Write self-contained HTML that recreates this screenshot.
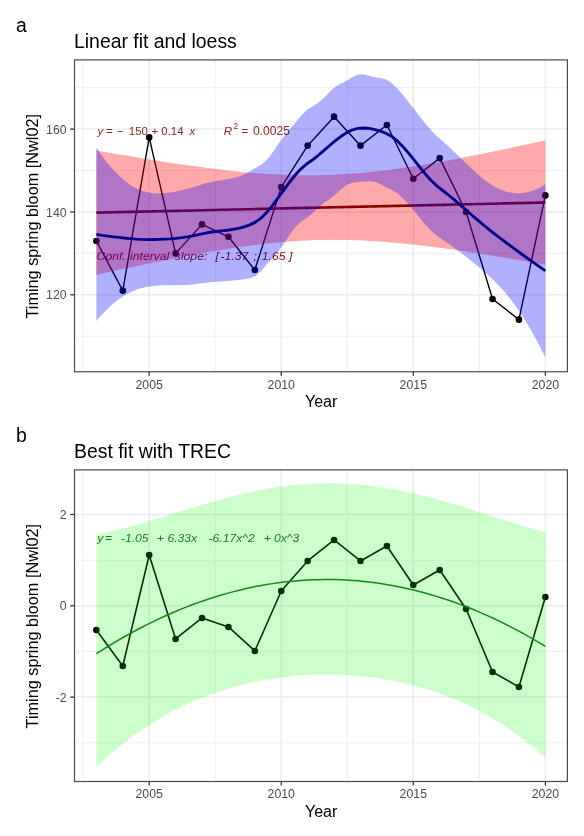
<!DOCTYPE html><html><head><meta charset="utf-8"><style>html,body{margin:0;padding:0;background:#fff;width:584px;height:836px;overflow:hidden}svg{display:block;filter:blur(0.3px)}</style></head><body><svg width="584" height="836" viewBox="0 0 584 836" font-family="Liberation Sans, sans-serif">
<rect width="584" height="836" fill="#fff"/>
<text x="16.0" y="31.6" font-size="19.4" fill="#000">a</text>
<text x="74.0" y="47.7" font-size="19.4" fill="#000">Linear fit and loess</text>
<line x1="73.9" x2="567.9" y1="336.23" y2="336.23" stroke="#EBEBEB" stroke-width="0.8"/>
<line x1="73.9" x2="567.9" y1="253.38" y2="253.38" stroke="#EBEBEB" stroke-width="0.8"/>
<line x1="73.9" x2="567.9" y1="170.52" y2="170.52" stroke="#EBEBEB" stroke-width="0.8"/>
<line x1="73.9" x2="567.9" y1="87.67" y2="87.67" stroke="#EBEBEB" stroke-width="0.8"/>
<line x1="83.20" x2="83.20" y1="60.0" y2="371.75" stroke="#EBEBEB" stroke-width="0.8"/>
<line x1="215.20" x2="215.20" y1="60.0" y2="371.75" stroke="#EBEBEB" stroke-width="0.8"/>
<line x1="347.30" x2="347.30" y1="60.0" y2="371.75" stroke="#EBEBEB" stroke-width="0.8"/>
<line x1="479.30" x2="479.30" y1="60.0" y2="371.75" stroke="#EBEBEB" stroke-width="0.8"/>
<line x1="73.9" x2="567.9" y1="294.80" y2="294.80" stroke="#EBEBEB" stroke-width="1.5"/>
<line x1="73.9" x2="567.9" y1="211.95" y2="211.95" stroke="#EBEBEB" stroke-width="1.5"/>
<line x1="73.9" x2="567.9" y1="129.10" y2="129.10" stroke="#EBEBEB" stroke-width="1.5"/>
<line x1="149.20" x2="149.20" y1="60.0" y2="371.75" stroke="#EBEBEB" stroke-width="1.5"/>
<line x1="281.25" x2="281.25" y1="60.0" y2="371.75" stroke="#EBEBEB" stroke-width="1.5"/>
<line x1="413.30" x2="413.30" y1="60.0" y2="371.75" stroke="#EBEBEB" stroke-width="1.5"/>
<line x1="545.40" x2="545.40" y1="60.0" y2="371.75" stroke="#EBEBEB" stroke-width="1.5"/>
<text transform="translate(96.62,260.4) scale(1.15,1)" font-size="10.6" font-style="italic" fill="#8B0000">Conf.</text>
<text transform="translate(130.08,260.4) scale(1.15,1)" font-size="10.6" font-style="italic" fill="#8B0000">interval</text>
<text transform="translate(174.80,260.4) scale(1.15,1)" font-size="10.6" font-style="italic" fill="#8B0000">slope:</text>
<text transform="translate(215.44,260.4) scale(1.15,1)" font-size="10.6" font-style="italic" fill="#8B0000">[</text>
<text transform="translate(220.53,260.4) scale(1.15,1)" font-size="10.6" font-style="italic" fill="#8B0000">-1.37</text>
<text transform="translate(253.58,260.4) scale(1.15,1)" font-size="10.6" font-style="italic" fill="#8B0000">;</text>
<text transform="translate(261.77,260.4) scale(1.15,1)" font-size="10.6" font-style="italic" fill="#8B0000">1.65</text>
<text transform="translate(288.94,260.4) scale(1.15,1)" font-size="10.6" font-style="italic" fill="#8B0000">]</text>
<polyline points="96.38,240.95 122.79,290.66 149.20,137.38 175.61,253.38 202.02,224.38 228.43,236.80 254.84,269.94 281.25,187.09 307.66,145.67 334.07,116.67 360.48,145.67 386.89,124.96 413.30,178.81 439.71,158.10 466.12,211.95 492.53,298.94 518.94,319.65 545.35,195.38" fill="none" stroke="#000" stroke-width="1.4" stroke-linejoin="round"/>
<circle cx="96.38" cy="240.95" r="3.3" fill="#000"/>
<circle cx="122.79" cy="290.66" r="3.3" fill="#000"/>
<circle cx="149.20" cy="137.38" r="3.3" fill="#000"/>
<circle cx="175.61" cy="253.38" r="3.3" fill="#000"/>
<circle cx="202.02" cy="224.38" r="3.3" fill="#000"/>
<circle cx="228.43" cy="236.80" r="3.3" fill="#000"/>
<circle cx="254.84" cy="269.94" r="3.3" fill="#000"/>
<circle cx="281.25" cy="187.09" r="3.3" fill="#000"/>
<circle cx="307.66" cy="145.67" r="3.3" fill="#000"/>
<circle cx="334.07" cy="116.67" r="3.3" fill="#000"/>
<circle cx="360.48" cy="145.67" r="3.3" fill="#000"/>
<circle cx="386.89" cy="124.96" r="3.3" fill="#000"/>
<circle cx="413.30" cy="178.81" r="3.3" fill="#000"/>
<circle cx="439.71" cy="158.10" r="3.3" fill="#000"/>
<circle cx="466.12" cy="211.95" r="3.3" fill="#000"/>
<circle cx="492.53" cy="298.94" r="3.3" fill="#000"/>
<circle cx="518.94" cy="319.65" r="3.3" fill="#000"/>
<circle cx="545.35" cy="195.38" r="3.3" fill="#000"/>
<text x="97.50" y="134.6" font-size="11.4" font-style="italic" fill="#8E2424">y</text>
<text x="106.00" y="134.6" font-size="11.4" font-style="normal" fill="#8E2424">=</text>
<text x="117.10" y="134.6" font-size="11.4" font-style="normal" fill="#8E2424">−</text>
<text x="128.80" y="134.6" font-size="11.4" font-style="normal" fill="#8E2424">150</text>
<text x="151.50" y="134.6" font-size="11.4" font-style="normal" fill="#8E2424">+</text>
<text x="161.30" y="134.6" font-size="11.4" font-style="normal" fill="#8E2424">0.14</text>
<text x="189.50" y="134.6" font-size="11.4" font-style="italic" fill="#8E2424">x</text>
<text x="223.70" y="134.6" font-size="11.6" font-style="italic" fill="#8E2424">R</text>
<text x="241.40" y="134.6" font-size="11.6" font-style="normal" fill="#8E2424">=</text>
<text x="252.90" y="134.6" font-size="12.1" font-style="normal" fill="#8E2424">0.0025</text>
<text x="233.50" y="128.8" font-size="8.4" font-style="normal" fill="#8E2424">2</text>
<polygon points="96.38,150.37 102.06,151.39 107.75,152.39 113.43,153.39 119.11,154.38 124.80,155.36 130.48,156.33 136.16,157.29 141.85,158.24 147.53,159.17 153.21,160.09 158.89,161.00 164.58,161.89 170.26,162.77 175.94,163.63 181.63,164.47 187.31,165.29 192.99,166.09 198.68,166.87 204.36,167.62 210.04,168.35 215.73,169.06 221.41,169.74 227.09,170.38 232.78,171.00 238.46,171.58 244.14,172.13 249.83,172.64 255.51,173.11 261.19,173.54 266.87,173.93 272.56,174.27 278.24,174.57 283.92,174.81 289.61,175.01 295.29,175.16 300.97,175.25 306.66,175.29 312.34,175.27 318.02,175.20 323.71,175.07 329.39,174.89 335.07,174.65 340.76,174.35 346.44,174.01 352.12,173.61 357.81,173.15 363.49,172.65 369.17,172.10 374.86,171.50 380.54,170.86 386.22,170.17 391.90,169.44 397.59,168.68 403.27,167.87 408.95,167.03 414.64,166.16 420.32,165.26 426.00,164.33 431.69,163.37 437.37,162.38 443.05,161.37 448.74,160.33 454.42,159.28 460.10,158.20 465.79,157.10 471.47,155.99 477.15,154.86 482.84,153.71 488.52,152.55 494.20,151.37 499.88,150.18 505.57,148.98 511.25,147.77 516.93,146.54 522.62,145.31 528.30,144.06 533.98,142.80 539.67,141.54 545.35,140.27 545.35,264.78 539.67,263.77 533.98,262.76 528.30,261.76 522.62,260.77 516.93,259.79 511.25,258.82 505.57,257.86 499.88,256.92 494.20,255.98 488.52,255.06 482.84,254.15 477.15,253.26 471.47,252.39 465.79,251.53 460.10,250.69 454.42,249.87 448.74,249.07 443.05,248.29 437.37,247.53 431.69,246.80 426.00,246.10 420.32,245.42 414.64,244.77 408.95,244.16 403.27,243.57 397.59,243.03 391.90,242.51 386.22,242.04 380.54,241.61 374.86,241.23 369.17,240.88 363.49,240.59 357.81,240.34 352.12,240.14 346.44,240.00 340.76,239.91 335.07,239.87 329.39,239.88 323.71,239.96 318.02,240.08 312.34,240.27 306.66,240.51 300.97,240.80 295.29,241.15 289.61,241.55 283.92,242.00 278.24,242.51 272.56,243.06 266.87,243.65 261.19,244.30 255.51,244.98 249.83,245.71 244.14,246.48 238.46,247.28 232.78,248.12 227.09,248.99 221.41,249.89 215.73,250.83 210.04,251.79 204.36,252.77 198.68,253.79 192.99,254.82 187.31,255.88 181.63,256.95 175.94,258.05 170.26,259.16 164.58,260.30 158.89,261.44 153.21,262.61 147.53,263.78 141.85,264.97 136.16,266.17 130.48,267.39 124.80,268.61 119.11,269.85 113.43,271.10 107.75,272.35 102.06,273.61 96.38,274.89" fill="#FF0000" fill-opacity="0.333"/>
<polyline points="96.38,212.63 102.06,212.50 107.75,212.37 113.43,212.24 119.11,212.12 124.80,211.99 130.48,211.86 136.16,211.73 141.85,211.61 147.53,211.48 153.21,211.35 158.89,211.22 164.58,211.09 170.26,210.97 175.94,210.84 181.63,210.71 187.31,210.58 192.99,210.45 198.68,210.33 204.36,210.20 210.04,210.07 215.73,209.94 221.41,209.82 227.09,209.69 232.78,209.56 238.46,209.43 244.14,209.30 249.83,209.18 255.51,209.05 261.19,208.92 266.87,208.79 272.56,208.66 278.24,208.54 283.92,208.41 289.61,208.28 295.29,208.15 300.97,208.02 306.66,207.90 312.34,207.77 318.02,207.64 323.71,207.51 329.39,207.39 335.07,207.26 340.76,207.13 346.44,207.00 352.12,206.87 357.81,206.75 363.49,206.62 369.17,206.49 374.86,206.36 380.54,206.23 386.22,206.11 391.90,205.98 397.59,205.85 403.27,205.72 408.95,205.60 414.64,205.47 420.32,205.34 426.00,205.21 431.69,205.08 437.37,204.96 443.05,204.83 448.74,204.70 454.42,204.57 460.10,204.44 465.79,204.32 471.47,204.19 477.15,204.06 482.84,203.93 488.52,203.81 494.20,203.68 499.88,203.55 505.57,203.42 511.25,203.29 516.93,203.17 522.62,203.04 528.30,202.91 533.98,202.78 539.67,202.65 545.35,202.53" fill="none" stroke="#8B0000" stroke-width="2.6"/>
<polygon points="96.38,147.76 102.06,156.04 107.75,163.46 113.43,170.05 119.11,175.82 124.80,180.82 130.48,184.98 136.16,188.29 141.85,190.74 147.53,192.34 153.21,193.19 158.89,193.44 164.58,193.20 170.26,192.54 175.94,191.55 181.63,190.30 187.31,188.85 192.99,187.23 198.68,185.46 204.36,183.61 210.04,182.16 215.73,181.09 221.41,180.21 227.09,179.36 232.78,178.30 238.46,176.78 244.14,174.54 249.83,171.51 255.51,168.07 261.19,164.76 266.87,159.97 272.56,152.57 278.24,144.05 283.92,136.15 289.61,129.39 295.29,122.87 300.97,115.73 306.66,110.00 312.34,106.61 318.02,103.08 323.71,98.23 329.39,92.30 335.07,86.95 340.76,83.47 346.44,80.69 352.12,77.23 357.81,74.62 363.49,74.32 369.17,75.73 374.86,77.37 380.54,78.10 386.22,79.40 391.90,83.20 397.59,88.81 403.27,95.37 408.95,102.45 414.64,109.80 420.32,117.19 426.00,124.34 431.69,130.96 437.37,136.71 443.05,141.55 448.74,146.61 454.42,151.94 460.10,157.43 465.79,162.98 471.47,168.45 477.15,173.69 482.84,178.54 488.52,182.84 494.20,186.43 499.88,189.31 505.57,191.47 511.25,192.84 516.93,193.40 522.62,193.15 528.30,192.09 533.98,190.25 539.67,187.65 545.35,184.33 545.35,357.48 539.67,346.18 533.98,335.55 528.30,325.62 522.62,316.39 516.93,307.88 511.25,300.10 505.57,293.03 499.88,286.64 494.20,280.85 488.52,275.54 482.84,270.50 477.15,265.69 471.47,261.05 465.79,256.56 460.10,252.20 454.42,247.97 448.74,243.88 443.05,239.95 437.37,236.08 431.69,231.13 426.00,225.13 420.32,218.47 414.64,211.53 408.95,204.76 403.27,198.63 397.59,193.58 391.90,189.92 386.22,187.44 380.54,184.36 374.86,181.73 369.17,181.17 363.49,181.69 357.81,182.09 352.12,182.78 346.44,184.95 340.76,189.61 335.07,194.90 329.39,199.13 323.71,203.11 318.02,207.96 312.34,213.44 306.66,217.95 300.97,221.87 295.29,227.13 289.61,234.95 283.92,243.62 278.24,251.41 272.56,258.01 266.87,264.33 261.19,271.02 255.51,276.12 249.83,278.23 244.14,279.31 238.46,280.03 232.78,280.62 227.09,281.10 221.41,281.49 215.73,281.87 210.04,282.33 204.36,282.99 198.68,283.86 192.99,284.50 187.31,284.88 181.63,285.07 175.94,285.13 170.26,285.14 164.58,285.19 158.89,285.41 153.21,285.89 147.53,286.77 141.85,288.06 136.16,289.86 130.48,292.24 124.80,295.30 119.11,299.06 113.43,303.58 107.75,308.77 102.06,314.57 96.38,320.91" fill="#0000FF" fill-opacity="0.31"/>
<polyline points="96.38,234.33 102.06,235.31 107.75,236.12 113.43,236.81 119.11,237.44 124.80,238.06 130.48,238.61 136.16,239.07 141.85,239.40 147.53,239.56 153.21,239.54 158.89,239.42 164.58,239.19 170.26,238.84 175.94,238.34 181.63,237.69 187.31,236.87 192.99,235.86 198.68,234.66 204.36,233.30 210.04,232.25 215.73,231.48 221.41,230.85 227.09,230.23 232.78,229.46 238.46,228.41 244.14,226.93 249.83,224.87 255.51,222.10 261.19,217.89 266.87,212.15 272.56,205.29 278.24,197.73 283.92,189.88 289.61,182.17 295.29,175.00 300.97,168.80 306.66,163.98 312.34,160.03 318.02,155.52 323.71,150.67 329.39,145.72 335.07,140.92 340.76,136.54 346.44,132.82 352.12,130.00 357.81,128.36 363.49,128.00 369.17,128.45 374.86,129.55 380.54,131.23 386.22,133.42 391.90,136.56 397.59,141.20 403.27,147.00 408.95,153.60 414.64,160.66 420.32,167.83 426.00,174.74 431.69,181.04 437.37,186.39 443.05,190.75 448.74,195.25 454.42,199.96 460.10,204.82 465.79,209.77 471.47,214.75 477.15,219.69 482.84,224.52 488.52,229.19 494.20,233.64 499.88,237.97 505.57,242.25 511.25,246.47 516.93,250.64 522.62,254.77 528.30,258.85 533.98,262.90 539.67,266.92 545.35,270.90" fill="none" stroke="#00008B" stroke-width="2.85" stroke-linejoin="round"/>
<rect x="74.5" y="59.90" width="492.90" height="311.85" fill="none" stroke="#4a4a4a" stroke-width="1.2"/>
<line x1="70.2" x2="74.5" y1="294.80" y2="294.80" stroke="#383838" stroke-width="1.3"/>
<text x="66.6" y="299.40" text-anchor="end" font-size="12.3" fill="#4D4D4D">120</text>
<line x1="70.2" x2="74.5" y1="211.95" y2="211.95" stroke="#383838" stroke-width="1.3"/>
<text x="66.6" y="216.55" text-anchor="end" font-size="12.3" fill="#4D4D4D">140</text>
<line x1="70.2" x2="74.5" y1="129.10" y2="129.10" stroke="#383838" stroke-width="1.3"/>
<text x="66.6" y="133.70" text-anchor="end" font-size="12.3" fill="#4D4D4D">160</text>
<line x1="149.20" x2="149.20" y1="371.75" y2="375.75" stroke="#383838" stroke-width="1.3"/>
<text x="149.20" y="388.65" text-anchor="middle" font-size="12.3" fill="#4D4D4D">2005</text>
<line x1="281.25" x2="281.25" y1="371.75" y2="375.75" stroke="#383838" stroke-width="1.3"/>
<text x="281.25" y="388.65" text-anchor="middle" font-size="12.3" fill="#4D4D4D">2010</text>
<line x1="413.30" x2="413.30" y1="371.75" y2="375.75" stroke="#383838" stroke-width="1.3"/>
<text x="413.30" y="388.65" text-anchor="middle" font-size="12.3" fill="#4D4D4D">2015</text>
<line x1="545.40" x2="545.40" y1="371.75" y2="375.75" stroke="#383838" stroke-width="1.3"/>
<text x="545.40" y="388.65" text-anchor="middle" font-size="12.3" fill="#4D4D4D">2020</text>
<text x="321.1" y="406.90" text-anchor="middle" font-size="16.0" fill="#000">Year</text>
<text transform="translate(38.3,216.28) rotate(-90) scale(1.017,1)" x="0" y="0" text-anchor="middle" font-size="16.0" fill="#000">Timing spring bloom [Nwl02]</text>
<text x="16.0" y="441.60" font-size="19.4" fill="#000">b</text>
<text x="74.0" y="457.70" font-size="19.4" fill="#000">Best fit with TREC</text>
<line x1="73.9" x2="567.9" y1="560.15" y2="560.15" stroke="#EBEBEB" stroke-width="0.8"/>
<line x1="73.9" x2="567.9" y1="651.45" y2="651.45" stroke="#EBEBEB" stroke-width="0.8"/>
<line x1="73.9" x2="567.9" y1="742.75" y2="742.75" stroke="#EBEBEB" stroke-width="0.8"/>
<line x1="83.20" x2="83.20" y1="470.0" y2="781.5" stroke="#EBEBEB" stroke-width="0.8"/>
<line x1="215.20" x2="215.20" y1="470.0" y2="781.5" stroke="#EBEBEB" stroke-width="0.8"/>
<line x1="347.30" x2="347.30" y1="470.0" y2="781.5" stroke="#EBEBEB" stroke-width="0.8"/>
<line x1="479.30" x2="479.30" y1="470.0" y2="781.5" stroke="#EBEBEB" stroke-width="0.8"/>
<line x1="73.9" x2="567.9" y1="514.50" y2="514.50" stroke="#EBEBEB" stroke-width="1.5"/>
<line x1="73.9" x2="567.9" y1="605.80" y2="605.80" stroke="#EBEBEB" stroke-width="1.5"/>
<line x1="73.9" x2="567.9" y1="697.10" y2="697.10" stroke="#EBEBEB" stroke-width="1.5"/>
<line x1="149.20" x2="149.20" y1="470.0" y2="781.5" stroke="#EBEBEB" stroke-width="1.5"/>
<line x1="281.25" x2="281.25" y1="470.0" y2="781.5" stroke="#EBEBEB" stroke-width="1.5"/>
<line x1="413.30" x2="413.30" y1="470.0" y2="781.5" stroke="#EBEBEB" stroke-width="1.5"/>
<line x1="545.40" x2="545.40" y1="470.0" y2="781.5" stroke="#EBEBEB" stroke-width="1.5"/>
<polyline points="96.38,629.96 122.79,665.95 149.20,554.98 175.61,638.96 202.02,617.96 228.43,626.96 254.84,650.95 281.25,590.97 307.66,560.98 334.07,539.99 360.48,560.98 386.89,545.99 413.30,584.97 439.71,569.98 466.12,608.97 492.53,671.94 518.94,686.94 545.35,596.97" fill="none" stroke="#000" stroke-width="1.6" stroke-linejoin="round"/>
<circle cx="96.38" cy="629.96" r="3.3" fill="#000"/>
<circle cx="122.79" cy="665.95" r="3.3" fill="#000"/>
<circle cx="149.20" cy="554.98" r="3.3" fill="#000"/>
<circle cx="175.61" cy="638.96" r="3.3" fill="#000"/>
<circle cx="202.02" cy="617.96" r="3.3" fill="#000"/>
<circle cx="228.43" cy="626.96" r="3.3" fill="#000"/>
<circle cx="254.84" cy="650.95" r="3.3" fill="#000"/>
<circle cx="281.25" cy="590.97" r="3.3" fill="#000"/>
<circle cx="307.66" cy="560.98" r="3.3" fill="#000"/>
<circle cx="334.07" cy="539.99" r="3.3" fill="#000"/>
<circle cx="360.48" cy="560.98" r="3.3" fill="#000"/>
<circle cx="386.89" cy="545.99" r="3.3" fill="#000"/>
<circle cx="413.30" cy="584.97" r="3.3" fill="#000"/>
<circle cx="439.71" cy="569.98" r="3.3" fill="#000"/>
<circle cx="466.12" cy="608.97" r="3.3" fill="#000"/>
<circle cx="492.53" cy="671.94" r="3.3" fill="#000"/>
<circle cx="518.94" cy="686.94" r="3.3" fill="#000"/>
<circle cx="545.35" cy="596.97" r="3.3" fill="#000"/>
<text transform="translate(97.19,541.9) scale(1.15,1)" font-size="10.6" font-style="italic" fill="#1E5E1E">y</text>
<text transform="translate(105.01,541.9) scale(1.15,1)" font-size="10.6" font-style="italic" fill="#1E5E1E">=</text>
<text transform="translate(120.83,541.9) scale(1.15,1)" font-size="10.6" font-style="italic" fill="#1E5E1E">-1.05</text>
<text transform="translate(156.71,541.9) scale(1.15,1)" font-size="10.6" font-style="italic" fill="#1E5E1E">+</text>
<text transform="translate(167.43,541.9) scale(1.15,1)" font-size="10.6" font-style="italic" fill="#1E5E1E">6.33x</text>
<text transform="translate(208.53,541.9) scale(1.15,1)" font-size="10.6" font-style="italic" fill="#1E5E1E">-6.17x^2</text>
<text transform="translate(263.71,541.9) scale(1.15,1)" font-size="10.6" font-style="italic" fill="#1E5E1E">+</text>
<text transform="translate(273.94,541.9) scale(1.15,1)" font-size="10.6" font-style="italic" fill="#1E5E1E">0x^3</text>
<polygon points="96.38,534.39 103.99,532.89 111.60,531.22 119.21,529.38 126.82,527.41 134.43,525.32 142.04,523.14 149.65,520.88 157.26,518.57 164.87,516.22 172.48,513.86 180.09,511.50 187.70,509.15 195.31,506.83 202.92,504.56 210.52,502.35 218.13,500.21 225.74,498.16 233.35,496.20 240.96,494.35 248.57,492.61 256.18,491.00 263.79,489.53 271.40,488.20 279.01,487.02 286.62,485.99 294.23,485.12 301.84,484.41 309.45,483.87 317.06,483.50 324.67,483.31 332.28,483.28 339.89,483.43 347.50,483.75 355.11,484.25 362.72,484.91 370.33,485.74 377.94,486.73 385.55,487.88 393.16,489.18 400.77,490.63 408.38,492.22 415.99,493.94 423.60,495.79 431.21,497.75 438.81,499.81 446.42,501.97 454.03,504.21 461.64,506.52 469.25,508.89 476.86,511.30 484.47,513.73 492.08,516.18 499.69,518.62 507.30,521.04 514.91,523.42 522.52,525.75 530.13,527.99 537.74,530.14 545.35,532.16 545.35,758.02 537.74,751.25 530.13,744.86 522.52,738.84 514.91,733.18 507.30,727.86 499.69,722.87 492.08,718.19 484.47,713.82 476.86,709.73 469.25,705.92 461.64,702.37 454.03,699.09 446.42,696.04 438.81,693.23 431.21,690.65 423.60,688.29 415.99,686.13 408.38,684.18 400.77,682.43 393.16,680.86 385.55,679.49 377.94,678.29 370.33,677.26 362.72,676.41 355.11,675.73 347.50,675.21 339.89,674.86 332.28,674.66 324.67,674.63 317.06,674.76 309.45,675.05 301.84,675.50 294.23,676.12 286.62,676.90 279.01,677.85 271.40,678.96 263.79,680.25 256.18,681.72 248.57,683.37 240.96,685.21 233.35,687.24 225.74,689.48 218.13,691.92 210.52,694.57 202.92,697.45 195.31,700.55 187.70,703.90 180.09,707.50 172.48,711.36 164.87,715.50 157.26,719.91 149.65,724.63 142.04,729.65 134.43,734.99 126.82,740.67 119.21,746.69 111.60,753.08 103.99,759.86 96.38,767.02" fill="#00FF00" fill-opacity="0.2"/>
<polyline points="96.38,653.63 102.06,650.02 107.75,646.50 113.43,643.07 119.11,639.73 124.80,636.48 130.48,633.31 136.16,630.24 141.85,627.26 147.53,624.37 153.21,621.57 158.89,618.86 164.58,616.24 170.26,613.71 175.94,611.27 181.63,608.92 187.31,606.67 192.99,604.50 198.68,602.42 204.36,600.43 210.04,598.53 215.73,596.73 221.41,595.01 227.09,593.38 232.78,591.85 238.46,590.40 244.14,589.04 249.83,587.78 255.51,586.60 261.19,585.52 266.87,584.52 272.56,583.62 278.24,582.80 283.92,582.08 289.61,581.44 295.29,580.90 300.97,580.45 306.66,580.08 312.34,579.81 318.02,579.63 323.71,579.53 329.39,579.53 335.07,579.62 340.76,579.80 346.44,580.07 352.12,580.43 357.81,580.87 363.49,581.41 369.17,582.04 374.86,582.76 380.54,583.57 386.22,584.47 391.90,585.46 397.59,586.54 403.27,587.71 408.95,588.98 414.64,590.33 420.32,591.77 426.00,593.30 431.69,594.92 437.37,596.64 443.05,598.44 448.74,600.33 454.42,602.31 460.10,604.39 465.79,606.55 471.47,608.81 477.15,611.15 482.84,613.59 488.52,616.11 494.20,618.72 499.88,621.43 505.57,624.23 511.25,627.11 516.93,630.09 522.62,633.15 528.30,636.31 533.98,639.56 539.67,642.89 545.35,646.32" fill="none" stroke="#138A13" stroke-width="1.5"/>
<rect x="74.5" y="469.90" width="492.90" height="311.60" fill="none" stroke="#4a4a4a" stroke-width="1.2"/>
<line x1="70.2" x2="74.5" y1="514.50" y2="514.50" stroke="#383838" stroke-width="1.3"/>
<text x="66.6" y="519.10" text-anchor="end" font-size="12.3" fill="#4D4D4D">2</text>
<line x1="70.2" x2="74.5" y1="605.80" y2="605.80" stroke="#383838" stroke-width="1.3"/>
<text x="66.6" y="610.40" text-anchor="end" font-size="12.3" fill="#4D4D4D">0</text>
<line x1="70.2" x2="74.5" y1="697.10" y2="697.10" stroke="#383838" stroke-width="1.3"/>
<text x="66.6" y="701.70" text-anchor="end" font-size="12.3" fill="#4D4D4D">-2</text>
<line x1="149.20" x2="149.20" y1="781.5" y2="785.50" stroke="#383838" stroke-width="1.3"/>
<text x="149.20" y="798.40" text-anchor="middle" font-size="12.3" fill="#4D4D4D">2005</text>
<line x1="281.25" x2="281.25" y1="781.5" y2="785.50" stroke="#383838" stroke-width="1.3"/>
<text x="281.25" y="798.40" text-anchor="middle" font-size="12.3" fill="#4D4D4D">2010</text>
<line x1="413.30" x2="413.30" y1="781.5" y2="785.50" stroke="#383838" stroke-width="1.3"/>
<text x="413.30" y="798.40" text-anchor="middle" font-size="12.3" fill="#4D4D4D">2015</text>
<line x1="545.40" x2="545.40" y1="781.5" y2="785.50" stroke="#383838" stroke-width="1.3"/>
<text x="545.40" y="798.40" text-anchor="middle" font-size="12.3" fill="#4D4D4D">2020</text>
<text x="321.1" y="816.90" text-anchor="middle" font-size="16.0" fill="#000">Year</text>
<text transform="translate(38.3,626.15) rotate(-90) scale(1.017,1)" x="0" y="0" text-anchor="middle" font-size="16.0" fill="#000">Timing spring bloom [Nwl02]</text>
</svg></body></html>
